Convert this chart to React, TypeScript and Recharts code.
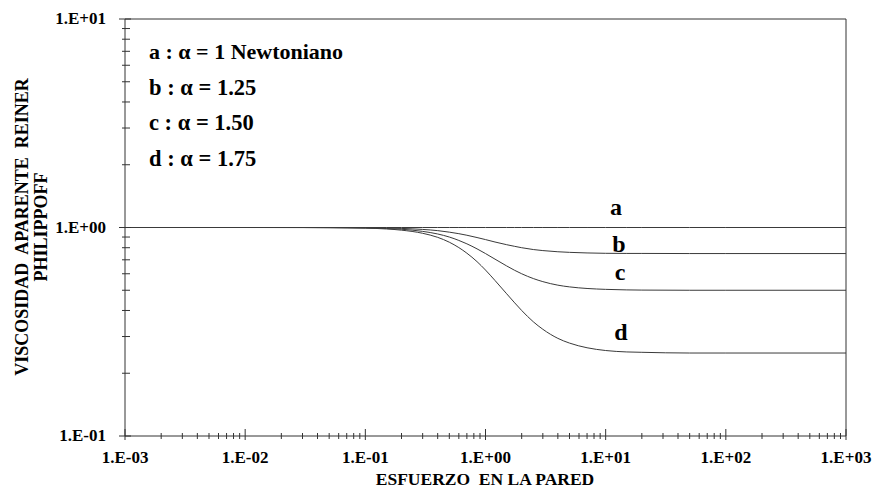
import React from "react";
import { LineChart, Line, XAxis, YAxis, ReferenceLine } from "recharts";

// Wall shear stress (x) values sampled along the curves
const stress = [0.001, 0.01, 0.03, 0.05, 0.1, 0.15, 0.2, 0.3, 0.4, 0.5, 0.6, 0.7, 0.85, 1, 1.2, 1.5, 1.75, 2, 2.5, 3, 4, 5, 7, 10, 15, 20, 50, 100, 1000];
// Apparent viscosity (Reiner-Philippoff)
const seriesA = [1, 1, 1, 1, 1, 1, 1, 1, 1, 1, 1, 1, 1, 1, 1, 1, 1, 1, 1, 1, 1, 1, 1, 1, 1, 1, 1, 1, 1];
const seriesB = [1, 1, 1, 0.999, 0.998, 0.995, 0.99, 0.979, 0.966, 0.95, 0.934, 0.918, 0.895, 0.875, 0.852, 0.827, 0.812, 0.8, 0.784, 0.775, 0.765, 0.76, 0.755, 0.752, 0.751, 0.751, 0.75, 0.75, 0.75];
const seriesC = [1, 1, 1, 0.999, 0.995, 0.989, 0.981, 0.958, 0.931, 0.9, 0.867, 0.835, 0.79, 0.75, 0.705, 0.654, 0.623, 0.6, 0.569, 0.55, 0.529, 0.519, 0.51, 0.505, 0.502, 0.501, 0.5, 0.5, 0.5];
const seriesD = [1, 1, 0.999, 0.998, 0.993, 0.984, 0.971, 0.938, 0.897, 0.85, 0.801, 0.753, 0.686, 0.625, 0.557, 0.481, 0.435, 0.4, 0.353, 0.325, 0.294, 0.279, 0.265, 0.257, 0.253, 0.252, 0.25, 0.25, 0.25];

const xDecades = [0.001, 0.01, 0.1, 1, 10, 100, 1000];
const xDecadeLabels = ["1.E-03", "1.E-02", "1.E-01", "1.E+00", "1.E+01", "1.E+02", "1.E+03"];
const yDecades = [0.1, 1, 10];
const yDecadeLabels = ["1.E-01", "1.E+00", "1.E+01"];
const minorMultipliers = [2, 3, 4, 5, 6, 7, 8, 9];

const legendLines = ["a : \u03b1 = 1 Newtoniano", "b : \u03b1 = 1.25", "c : \u03b1 = 1.50", "d : \u03b1 = 1.75"];
const curveNames = ["a", "b", "c", "d"];

const data = stress.map((s, i) => ({ s, a: seriesA[i], b: seriesB[i], c: seriesC[i], d: seriesD[i] }));

const buildTicks = (decades: number[]) => {
  const out: number[] = [];
  decades.forEach((d, i) => {
    out.push(d);
    if (i < decades.length - 1) minorMultipliers.forEach((m) => out.push(+(d * m).toPrecision(3)));
  });
  return out;
};
const xTicks = buildTicks(xDecades);
const yTicks = buildTicks(yDecades);

const FONT = "Liberation Serif";
const AX = "#333";

const findDecade = (v: number, decades: number[]) =>
  decades.findIndex((d) => Math.abs(d - v) / d < 1e-6);

const XTick = (props: any) => {
  const { x, y, payload } = props;
  const idx = findDecade(payload.value, xDecades);
  const major = idx >= 0;
  return (
    <g>
      <line x1={x} x2={x} y1={y - (major ? 7 : 3)} y2={y + (major ? 4 : 3)} stroke={AX} strokeWidth={1} />
      {major && (
        <text x={x} y={y + 27} textAnchor="middle" fontFamily={FONT} fontWeight="bold" fontSize={17} fill="#000">
          {xDecadeLabels[idx]}
        </text>
      )}
    </g>
  );
};

const YTick = (props: any) => {
  const { x, y, payload } = props;
  const idx = findDecade(payload.value, yDecades);
  const major = idx >= 0;
  return (
    <g>
      <line x1={x - (major ? 6 : 3)} x2={x + (major ? 6 : 5)} y1={y} y2={y} stroke={AX} strokeWidth={1} />
      {major && (
        <text x={x - 19} y={y + 5} textAnchor="end" fontFamily={FONT} fontWeight="bold" fontSize={17} fill="#000">
          {yDecadeLabels[idx]}
        </text>
      )}
    </g>
  );
};

const seriesKeys = ["a", "b", "c", "d"];
const curveLabelPos = [
  { x: 616, y: 215 },
  { x: 619, y: 252 },
  { x: 620, y: 280 },
  { x: 621, y: 340 },
];
const legendPos = [
  { y: 59, size: 22 },
  { y: 95, size: 22.5 },
  { y: 130, size: 22.5 },
  { y: 166, size: 22.5 },
];

export default function App() {
  return (
    <div style={{ position: "absolute", left: 0, top: 0, width: 874, height: 489, background: "#fff" }}>
      <LineChart width={874} height={489} data={data} margin={{ top: 19, right: 28, left: 0, bottom: 0 }}>
        <XAxis
          dataKey="s"
          type="number"
          scale="log"
          domain={[0.001, 1000]}
          ticks={xTicks}
          interval={0}
          height={53}
          tickSize={0}
          tickMargin={0}
          tickLine={false}
          tick={<XTick />}
          axisLine={{ stroke: AX, strokeWidth: 1 }}
          allowDataOverflow
        />
        <YAxis
          type="number"
          scale="log"
          domain={[0.1, 10]}
          ticks={yTicks}
          interval={0}
          width={125}
          tickSize={0}
          tickMargin={0}
          tickLine={false}
          tick={<YTick />}
          axisLine={{ stroke: AX, strokeWidth: 1 }}
          allowDataOverflow
        />
        <ReferenceLine y={10} stroke={AX} strokeWidth={1} />
        <ReferenceLine x={1000} stroke={AX} strokeWidth={1} />
        {seriesKeys.map((k) => (
          <Line
            key={k}
            dataKey={k}
            type="monotone"
            stroke="#3a3a3a"
            strokeWidth={1}
            dot={false}
            activeDot={false}
            isAnimationActive={false}
          />
        ))}
      </LineChart>
      <svg width={874} height={489} style={{ position: "absolute", left: 0, top: 0, pointerEvents: "none" }}>
        {legendLines.map((t, i) => (
          <text
            key={t}
            x={149}
            y={legendPos[i].y}
            fontSize={legendPos[i].size}
            fontFamily={FONT}
            fontWeight="bold"
            fill="#000"
          >
            {t}
          </text>
        ))}
        {curveNames.map((n, i) => (
          <text
            key={n}
            x={curveLabelPos[i].x}
            y={curveLabelPos[i].y}
            fontSize={24}
            textAnchor="middle"
            fontFamily={FONT}
            fontWeight="bold"
            fill="#000"
          >
            {n}
          </text>
        ))}
        <text
          x={485}
          y={485}
          fontSize={17.5}
          textAnchor="middle"
          fontFamily={FONT}
          fontWeight="bold"
          fill="#000"
          style={{ whiteSpace: "pre" }}
        >
          {"ESFUERZO  EN LA PARED"}
        </text>
        <text
          x={0}
          y={0}
          fontSize={18}
          textAnchor="middle"
          fontFamily={FONT}
          fontWeight="bold"
          fill="#000"
          transform="translate(27.5,227) rotate(-90)"
          style={{ whiteSpace: "pre" }}
        >
          {"VISCOSIDAD  APARENTE  REINER"}
        </text>
        <text
          x={0}
          y={0}
          fontSize={18}
          textAnchor="middle"
          fontFamily={FONT}
          fontWeight="bold"
          fill="#000"
          transform="translate(46.5,227) rotate(-90)"
        >
          PHILIPPOFF
        </text>
      </svg>
    </div>
  );
}
